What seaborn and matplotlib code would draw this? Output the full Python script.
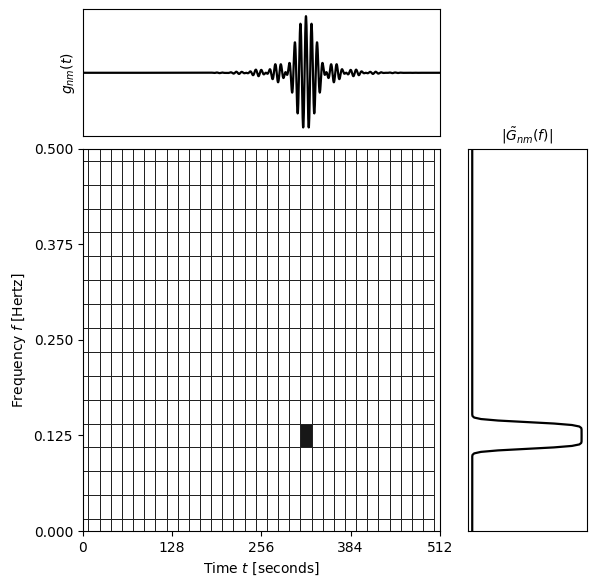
import numpy as np
import pandas as pd
import matplotlib
matplotlib.use("Agg")
import matplotlib.pyplot as plt
import seaborn as sns
from math import erf

# Wilson-type tiling parameters
T_total = 512.0
dt_cell = 16.0
df_cell = 1.0 / 32.0
n_sel = 20      # time index of highlighted atom (t = 320 s)
m_sel = 4       # frequency index (f = 0.125 Hz)
band_lo = 0.1075
band_hi = 0.1425
edge_w = 0.004
x_ticks = [0, 128, 256, 384, 512]
y_ticks = [0.0, 0.125, 0.25, 0.375, 0.5]

# Spectrum of the atom
fs = 4.0
N = int(T_total * fs)
freqs = np.fft.rfftfreq(N, d=1 / fs)
G = np.array([0.5 * (erf((f - band_lo) / edge_w) - erf((f - band_hi) / edge_w)) for f in freqs])
t = np.arange(N) / fs
t0 = n_sel * dt_cell
g = np.fft.irfft(G * np.exp(-2j * np.pi * freqs * t0), n=N)
g /= np.abs(g).max()

fig = plt.figure(figsize=(5.96, 5.87), dpi=100)
ax_main = fig.add_axes([0.139, 0.0954, 0.599, 0.651])
ax_top = fig.add_axes([0.139, 0.768, 0.599, 0.216])
ax_r = fig.add_axes([0.785, 0.0954, 0.2, 0.651])

# tiling
t_edges = np.arange(-0.5, T_total / dt_cell + 0.5, 1.0) * dt_cell
f_edges = np.arange(-0.5, 0.5 / df_cell + 1.0, 1.0) * df_cell
Z = np.zeros((len(f_edges) - 1, len(t_edges) - 1))
Z[m_sel, n_sel] = 1.0
ax_main.pcolormesh(t_edges, f_edges, Z, cmap="gray_r", vmin=0, vmax=1.1,
                   edgecolors="#222222", linewidth=0.7)
ax_main.set_xlim(0, T_total)
ax_main.set_ylim(0, 0.5)
ax_main.set_xticks(x_ticks)
ax_main.set_yticks(y_ticks)
ax_main.set_yticklabels([f"{v:.3f}" for v in y_ticks])
ax_main.set_xlabel("Time $t$ [seconds]")
ax_main.set_ylabel("Frequency $f$ [Hertz]")

# top waveform
sns.lineplot(x=t, y=g, ax=ax_top, color="black", linewidth=1.6)
ax_top.set_xlim(0, T_total)
ax_top.set_ylim(-1.12, 1.12)
ax_top.set_xticks([])
ax_top.set_yticks([])
ax_top.set_ylabel("$g_{nm}(t)$")

# right spectrum
Gn = G / G.max()
sns.lineplot(x=Gn, y=freqs, ax=ax_r, color="black", linewidth=1.6, sort=False, orient="y")
ax_r.set_xlim(-0.04, 1.05)
ax_r.set_ylim(0, 0.5)
ax_r.set_xticks([])
ax_r.set_yticks([])
ax_r.set_title(r"$|\tilde{G}_{nm}(f)|$", fontsize=10)

fig.savefig("out.png", dpi=100)
